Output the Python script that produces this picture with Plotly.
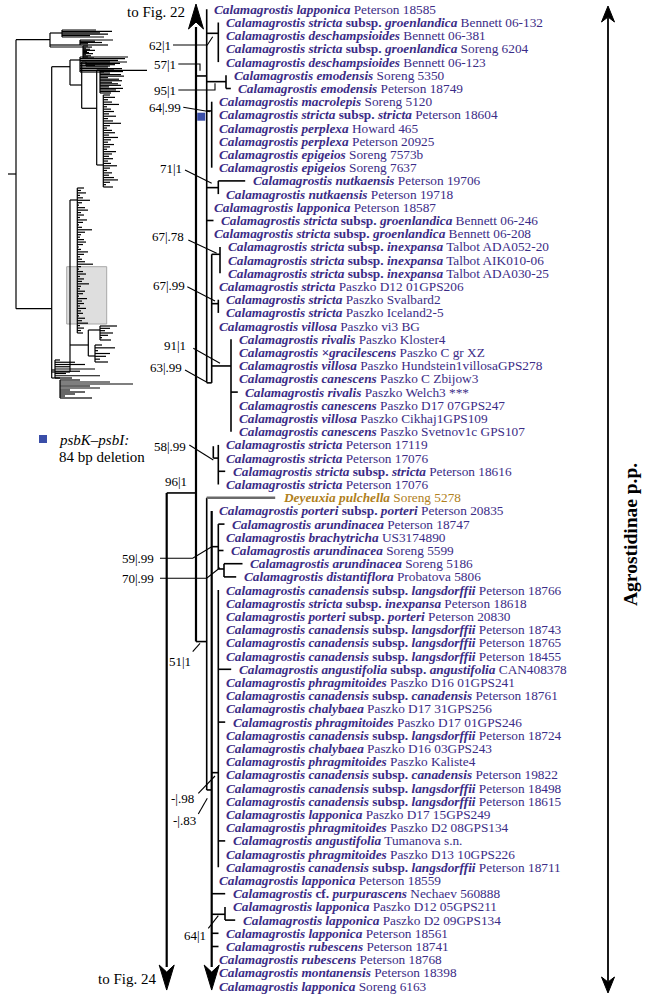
import plotly.graph_objects as go

# ---------------------------------------------------------------- data
taxa = [
    "Calamagrostis lapponica",
    "Calamagrostis stricta subsp. groenlandica",
    "Calamagrostis deschampsioides",
    "Calamagrostis stricta subsp. groenlandica",
    "Calamagrostis deschampsioides",
    "Calamagrostis emodensis",
    "Calamagrostis emodensis",
    "Calamagrostis macrolepis",
    "Calamagrostis stricta subsp. stricta",
    "Calamagrostis perplexa",
    "Calamagrostis perplexa",
    "Calamagrostis epigeios",
    "Calamagrostis epigeios",
    "Calamagrostis nutkaensis",
    "Calamagrostis nutkaensis",
    "Calamagrostis lapponica",
    "Calamagrostis stricta subsp. groenlandica",
    "Calamagrostis stricta subsp. groenlandica",
    "Calamagrostis stricta subsp. inexpansa",
    "Calamagrostis stricta subsp. inexpansa",
    "Calamagrostis stricta subsp. inexpansa",
    "Calamagrostis stricta",
    "Calamagrostis stricta",
    "Calamagrostis stricta",
    "Calamagrostis villosa",
    "Calamagrostis rivalis",
    "Calamagrostis ×gracilescens",
    "Calamagrostis villosa",
    "Calamagrostis canescens",
    "Calamagrostis rivalis",
    "Calamagrostis canescens",
    "Calamagrostis villosa",
    "Calamagrostis canescens",
    "Calamagrostis stricta",
    "Calamagrostis stricta",
    "Calamagrostis stricta subsp. stricta",
    "Calamagrostis stricta",
    "Deyeuxia pulchella",
    "Calamagrostis porteri subsp. porteri",
    "Calamagrostis arundinacea",
    "Calamagrostis brachytricha",
    "Calamagrostis arundinacea",
    "Calamagrostis arundinacea",
    "Calamagrostis distantiflora",
    "Calamagrostis canadensis subsp. langsdorffii",
    "Calamagrostis stricta subsp. inexpansa",
    "Calamagrostis porteri subsp. porteri",
    "Calamagrostis canadensis subsp. langsdorffii",
    "Calamagrostis canadensis subsp. langsdorffii",
    "Calamagrostis canadensis subsp. langsdorffii",
    "Calamagrostis angustifolia subsp. angustifolia",
    "Calamagrostis phragmitoides",
    "Calamagrostis canadensis subsp. canadensis",
    "Calamagrostis chalybaea",
    "Calamagrostis phragmitoides",
    "Calamagrostis canadensis subsp. langsdorffii",
    "Calamagrostis chalybaea",
    "Calamagrostis phragmitoides",
    "Calamagrostis canadensis subsp. canadensis",
    "Calamagrostis canadensis subsp. langsdorffii",
    "Calamagrostis canadensis subsp. langsdorffii",
    "Calamagrostis lapponica",
    "Calamagrostis phragmitoides",
    "Calamagrostis angustifolia",
    "Calamagrostis phragmitoides",
    "Calamagrostis canadensis subsp. langsdorffii",
    "Calamagrostis lapponica",
    "Calamagrostis cf. purpurascens",
    "Calamagrostis lapponica",
    "Calamagrostis lapponica",
    "Calamagrostis lapponica",
    "Calamagrostis rubescens",
    "Calamagrostis rubescens",
    "Calamagrostis montanensis",
    "Calamagrostis lapponica",
]
vouchers = [
    "Peterson 18585", "Bennett 06-132", "Bennett 06-381", "Soreng 6204", "Bennett 06-123",
    "Soreng 5350", "Peterson 18749", "Soreng 5120", "Peterson 18604", "Howard 465",
    "Peterson 20925", "Soreng 7573b", "Soreng 7637", "Peterson 19706", "Peterson 19718",
    "Peterson 18587", "Bennett 06-246", "Bennett 06-208", "Talbot ADA052-20", "Talbot AIK010-06",
    "Talbot ADA030-25", "Paszko D12 01GPS206", "Paszko Svalbard2", "Paszko Iceland2-5", "Paszko vi3 BG",
    "Paszko Kloster4", "Paszko C gr XZ", "Paszko Hundstein1villosaGPS278", "Paszko C Zbijow3", "Paszko Welch3 ***",
    "Paszko D17 07GPS247", "Paszko Cikhaj1GPS109", "Paszko Svetnov1c GPS107", "Peterson 17119", "Peterson 17076",
    "Peterson 18616", "Peterson 17076", "Soreng 5278", "Peterson 20835", "Peterson 18747",
    "US3174890", "Soreng 5599", "Soreng 5186", "Probatova 5806", "Peterson 18766",
    "Peterson 18618", "Peterson 20830", "Peterson 18743", "Peterson 18765", "Peterson 18455",
    "CAN408378", "Paszko D16 01GPS241", "Peterson 18761", "Paszko D17 31GPS256", "Paszko D17 01GPS246",
    "Peterson 18724", "Paszko D16 03GPS243", "Paszko Kaliste4", "Peterson 19822", "Peterson 18498",
    "Peterson 18615", "Paszko D17 15GPS249", "Paszko D2 08GPS134", "Tumanova s.n.", "Paszko D13 10GPS226",
    "Peterson 18711", "Peterson 18559", "Nechaev 560888", "Paszko D12 05GPS211", "Paszko D2 09GPS134",
    "Peterson 18561", "Peterson 18741", "Peterson 18768", "Peterson 18398", "Soreng 6163",
]

# parent node of every tip (top to bottom)
tip_parent = (["C"] + ["G1"] * 4 + ["G2"] * 2 + ["G3"] * 6 + ["G4"] * 2 + ["C"] * 3
              + ["G5"] * 3 + ["H"] + ["G6"] * 2 + ["H"] + ["G7"] * 8 + ["G8"] * 4
              + ["D"] + ["E"] + ["G9"] * 3 + ["G10"] * 2 + ["F"] * 22 + ["E"] * 2
              + ["G11"] * 2 + ["E"] * 5)
# tips with a visible terminal branch: depth of the tip
tip_depth_extra = {6: 230.8, 13: 245.2, 16: 213.5, 29: 237.8, 35: 225.2, 37: 275.2,
                   39: 224.5, 41: 223.5, 42: 242.5, 43: 236.2, 50: 231.2, 54: 225.2,
                   63: 225.2, 67: 225.2, 69: 235.2, 70: 218.5, 71: 218.5}

# internal nodes: depth, parent, attachment (row units)
node_depth = {"A": 166.7, "B": 196, "C": 206.7, "G1": 218.3, "G2": 226, "G3": 211.7,
              "G4": 218.3, "H": 211.7, "G5": 220, "G6": 218.3, "G7": 231, "G8p": 213.3,
              "G8": 218.3, "D": 206.7, "E": 211.7, "G9": 218.3, "G10": 224, "F": 218.3,
              "G11": 225}
node_parent = {"A": None, "B": "A", "C": "B", "G1": "C", "G2": "C", "G3": "C", "G4": "C",
               "H": "C", "G5": "H", "G6": "H", "G7": "H", "G8p": None, "G8": "G8p",
               "D": "B", "E": "D", "G9": "E", "G10": "G9", "F": "E", "G11": "E"}
node_attach = {"A": None, "B": 36.64, "C": 5.05, "G1": 1.82, "G2": 5.48, "G3": 7.7,
               "G4": 13.51, "H": 28.3, "G5": 18.56, "G6": 22.3, "G7": 27.02, "G8p": 33.1,
               "G8": 34.0, "D": 47.9, "E": 59.14, "G9": 40.71, "G10": 42.4, "F": 57.83,
               "G11": 68.56}
# continuation arrows: node, tip row
arrow_nodes = [("B", -0.40), ("A", 74.3), ("E", 74.3)]

support_text = ["62|1", "57|1", "95|1", "64|.99", "71|1", "67|.78", "67|.99", "91|1",
                "63|.99", "58|.99", "96|1", "59|.99", "70|.99", "51|1", "-|.98", "-|.83", "64|1"]

# overview (thumbnail) tree: tip end depths of the dense clusters
thumb_top1 = [96, 112, 100, 108, 90, 104]
thumb_top2 = [113, 95, 102, 88, 108]
thumb_top3 = [88, 92, 86, 90, 95, 87, 89, 93, 86, 91, 88, 94]
thumb_up1 = [128, 125, 118, 110, 100, 95, 108, 122, 147, 104]
thumb_up2 = [127, 120, 115, 110]
thumb_e1 = [114, 123, 110, 121, 124, 108, 119, 122, 112, 118, 121, 109, 123, 116, 120, 111]
thumb_f1 = [110, 115, 108, 112, 119, 107, 111, 114, 109, 116, 108, 113, 121, 110, 107, 112,
            115, 109, 118, 111, 108, 114, 110, 107, 116, 112, 109, 113, 108, 111, 117, 110,
            107, 112, 109, 114, 118, 110, 106, 113]
thumb_m1 = [84, 81, 86, 80, 83, 90, 82, 79, 85, 88, 81, 84, 80, 87, 83, 79, 82, 92, 85, 81,
            80, 84, 86, 83, 79, 81, 88, 84, 80, 82, 85, 93, 81, 79, 83, 86, 80, 84, 82, 89,
            81, 80, 85, 83, 79, 87, 82, 84, 80, 86, 81, 83, 79, 85, 82, 88, 80, 84, 81, 83]
thumb_l1 = [117, 110, 105, 113, 108, 102, 111]
thumb_l2 = [102, 115, 98, 110, 106, 100, 108]
thumb_b1 = [60, 75, 85, 70, 95, 80, 66, 100, 72]
thumb_b2 = [80, 110, 133, 90, 100, 70, 85, 75, 65, 92]

# ---------------------------------------------------------------- helpers
ROW0, ROW_STEP = 9.3, 13.2


def row_y(r):
    return ROW0 + ROW_STEP * r


PURPLE = "#3b2c86"
GOLD = "#b07f1c"
SERIF = "Liberation Serif"


def fmt_label(name, voucher):
    words = []
    for w in name.split(" "):
        if w in ("subsp.", "cf."):
            words.append(w)
        else:
            words.append("<i>" + w + "</i>")
    return "<b>" + " ".join(words) + "</b> " + voucher


def add_seg(xs, ys, pts):
    for x, y in pts:
        xs.append(x)
        ys.append(y)
    xs.append(None)
    ys.append(None)


fig = go.Figure()

# ---------------------------------------------------------------- main tree
n_tips = len(taxa)
tip_depth = [node_depth[tip_parent[i]] for i in range(n_tips)]
for i, d in tip_depth_extra.items():
    tip_depth[i] = d

HEAD_LEN = 25
span = {}
for n in node_depth:
    rows = []
    if node_attach[n] is not None:
        rows.append(node_attach[n])
    rows += [i for i in range(n_tips) if tip_parent[i] == n]
    rows += [node_attach[c] for c in node_depth if node_parent[c] == n]
    top, bot = min(rows), max(rows)
    span[n] = [row_y(top), row_y(bot)]
for n, tip_row in arrow_nodes:
    ty = row_y(tip_row)
    if ty < span[n][0]:
        span[n][0] = ty + HEAD_LEN - 2
    else:
        span[n][1] = ty - HEAD_LEN + 2

tx, ty_ = [], []
thick_x, thick_y = [], []
for n, d in node_depth.items():
    target = (thick_x, thick_y) if n in ("A", "B", "E") else (tx, ty_)
    add_seg(*target, [(d, span[n][0]), (d, span[n][1])])
    p = node_parent[n]
    if p is not None:
        add_seg(tx, ty_, [(node_depth[p], row_y(node_attach[n])), (d, row_y(node_attach[n]))])

grey_x, grey_y = [], []
for i in range(n_tips):
    p = node_depth[tip_parent[i]]
    if tip_depth[i] > p + 1:
        if taxa[i].startswith("Deyeuxia"):
            add_seg(grey_x, grey_y, [(p, row_y(i)), (tip_depth[i], row_y(i))])
        else:
            add_seg(tx, ty_, [(p, row_y(i)), (tip_depth[i], row_y(i))])

fig.add_trace(go.Scatter(x=tx, y=ty_, mode="lines", line=dict(color="black", width=1.6),
                         hoverinfo="skip"))
fig.add_trace(go.Scatter(x=thick_x, y=thick_y, mode="lines", line=dict(color="black", width=2.2),
                         hoverinfo="skip"))
fig.add_trace(go.Scatter(x=grey_x, y=grey_y, mode="lines", line=dict(color="#6a6a6a", width=2.4),
                         hoverinfo="skip"))


# arrowheads
def head(x, tip, direction, length, hw, notch):
    base = tip - direction * length
    nb = base + direction * notch
    return [(x, tip), (x - hw, base), (x, nb), (x + hw, base), (x, tip)]


ah_x, ah_y = [], []
for n, tip_row in arrow_nodes:
    t = row_y(tip_row)
    direction = -1 if t < span[n][0] else 1
    add_seg(ah_x, ah_y, head(node_depth[n], t, direction, HEAD_LEN, 7.5, 7))
# bracket arrow on the right
add_seg(ah_x, ah_y, head(608, 6, -1, 16, 6.5, 5))
add_seg(ah_x, ah_y, head(608, 993, 1, 16, 6.5, 5))
fig.add_trace(go.Scatter(x=ah_x, y=ah_y, mode="lines", fill="toself", fillcolor="black",
                         line=dict(color="black", width=1), hoverinfo="skip"))
fig.add_trace(go.Scatter(x=[608, 608], y=[18, 981], mode="lines",
                         line=dict(color="black", width=1.8), hoverinfo="skip"))

# support-value leaders
support_pos = [(171.7, 45), (176.7, 64), (176.7, 90), (181.7, 107.3), (183, 168),
               (185, 236.7), (186, 285.7), (186.7, 345), (183.3, 367.3), (186.7, 446),
               (188.3, 481.7), (155, 558.3), (155, 578.3), (191.7, 661.7), (195, 798.3),
               (196.7, 820.7), (207.3, 935)]
leaders = [
    [(173, 45), (207.3, 45), (212.7, 36.7)],
    [(178.3, 64), (200, 64), (200, 70.7)],
    [(178.3, 90), (215, 90), (215, 83.3)],
    [(183.3, 107.3), (210, 111.7)],
    [(185, 170), (211.7, 183.3)],
    [(188.3, 240), (216.7, 253.3)],
    [(187.3, 286.7), (215, 301)],
    [(193.3, 348.3), (220, 363.3)],
    [(185, 370), (206, 381.7)],
    [(189.3, 445), (213.3, 460)],
    [(160, 558.3), (192.7, 558.3), (211.7, 546.7)],
    [(160, 578.3), (206.7, 578.3), (220, 567.7)],
    [(192.7, 651.7), (200, 643.3)],
    [(198.3, 793.3), (215, 776)],
    [(198.3, 814), (207.3, 798.3)],
    [(208.3, 928.3), (218.3, 915.7)],
]
lx, ly = [], []
for pts in leaders:
    add_seg(lx, ly, pts)
fig.add_trace(go.Scatter(x=lx, y=ly, mode="lines", line=dict(color="black", width=1.1),
                         hoverinfo="skip"))

# ---------------------------------------------------------------- overview tree
th_x, th_y = [], []
# backbone: depth, top, bottom, parent depth, attach y
thumb_nodes = [
    (16, 39.7, 308.7, 8, 174),
    (50, 33, 47, 16, 39.7),
    (51.7, 66.7, 378, 16, 308.7),
    (70, 60, 85, 51.7, 66.7),
    (81.7, 62, 108.3, 70, 85),
    (96.7, 70, 165, 81.7, 108.3),
    (70, 200, 372, 51.7, 372),
    (88.3, 330, 356, 70, 345),
]
for d, t, b, pd, ay in thumb_nodes:
    add_seg(th_x, th_y, [(d, t), (d, b)])
    add_seg(th_x, th_y, [(pd, ay), (d, ay)])
thumb_clusters = [
    (62, 30, 37, 50, 33, thumb_top1),
    (80, 40, 45, 50, 45, thumb_top2),
    (83, 46, 58, 50, 47, thumb_top3),
    (80, 57, 72, 70, 60, thumb_up1),
    (86, 62, 66, 81.7, 62, thumb_up2),
    (100, 70, 93, 96.7, 70, thumb_e1),
    (103.3, 95, 187, 96.7, 165, thumb_f1),
    (77.3, 188, 333, 70, 200, thumb_m1),
    (100, 326, 340, 88.3, 330, thumb_l1),
    (95, 345, 362, 88.3, 356, thumb_l2),
    (55, 360, 378, 51.7, 370, thumb_b1),
    (60, 380, 398, 51.7, 378, thumb_b2),
]
for d, t, b, pd, ay, ends in thumb_clusters:
    add_seg(th_x, th_y, [(d, t), (d, b)])
    add_seg(th_x, th_y, [(pd, ay), (d, ay)])
    k = len(ends)
    for j, e in enumerate(ends):
        yy = t + (b - t) * j / (k - 1)
        add_seg(th_x, th_y, [(d, yy), (e, yy)])
fig.add_trace(go.Scatter(x=th_x, y=th_y, mode="lines", line=dict(color="black", width=1.2),
                         hoverinfo="skip"))

# deletion markers
fig.add_trace(go.Scatter(x=[201.2, 43], y=[116.7, 439], mode="markers",
                         marker=dict(symbol="square", size=8, color="#3a4ea8"),
                         hoverinfo="skip"))

# ---------------------------------------------------------------- text
ann = []
for i in range(n_tips):
    color = GOLD if taxa[i].startswith("Deyeuxia") else PURPLE
    ann.append(dict(x=tip_depth[i] + 6.5, y=row_y(i), text=fmt_label(taxa[i], vouchers[i]),
                    xanchor="left", yanchor="middle", showarrow=False, borderpad=0,
                    font=dict(family=SERIF, size=13.3, color=color)))
for s, (x, y) in zip(support_text, support_pos):
    ann.append(dict(x=x, y=y, text=s, xanchor="right", yanchor="middle", showarrow=False,
                    borderpad=0, font=dict(family=SERIF, size=13, color="black")))
ann.append(dict(x=187, y=12, text="to Fig. 22", xanchor="right", yanchor="middle",
                showarrow=False, font=dict(family=SERIF, size=15, color="black")))
ann.append(dict(x=158, y=979, text="to Fig. 24", xanchor="right", yanchor="middle",
                showarrow=False, font=dict(family=SERIF, size=15, color="black")))
ann.append(dict(x=57, y=440, text="<i>psbK–psbI:</i>", xanchor="left", yanchor="middle",
                showarrow=False, font=dict(family=SERIF, size=15, color="black")))
ann.append(dict(x=57, y=456.5, text="84 bp deletion", xanchor="left", yanchor="middle",
                showarrow=False, font=dict(family=SERIF, size=15, color="black")))
ann.append(dict(x=630, y=535, text="<b>Agrostidinae p.p.</b>", textangle=-90,
                xanchor="center", yanchor="middle", showarrow=False,
                font=dict(family=SERIF, size=19.5, color="black")))

fig.update_layout(
    width=648, height=999,
    margin=dict(l=0, r=0, t=0, b=0),
    paper_bgcolor="white", plot_bgcolor="white",
    showlegend=False,
    xaxis=dict(range=[0, 648], visible=False, fixedrange=True),
    yaxis=dict(range=[999, 0], visible=False, fixedrange=True),
    annotations=ann,
    shapes=[dict(type="rect", xref="x", yref="y", x0=66.7, x1=106.7, y0=266.7, y1=324,
                 fillcolor="rgba(205,205,205,0.65)", line=dict(color="#a8a8a8", width=1),
                 layer="below")],
)

fig.write_html("out.html", config={"displayModeBar": False},
               post_script="document.body.style.margin='0';document.body.style.padding='0';")
